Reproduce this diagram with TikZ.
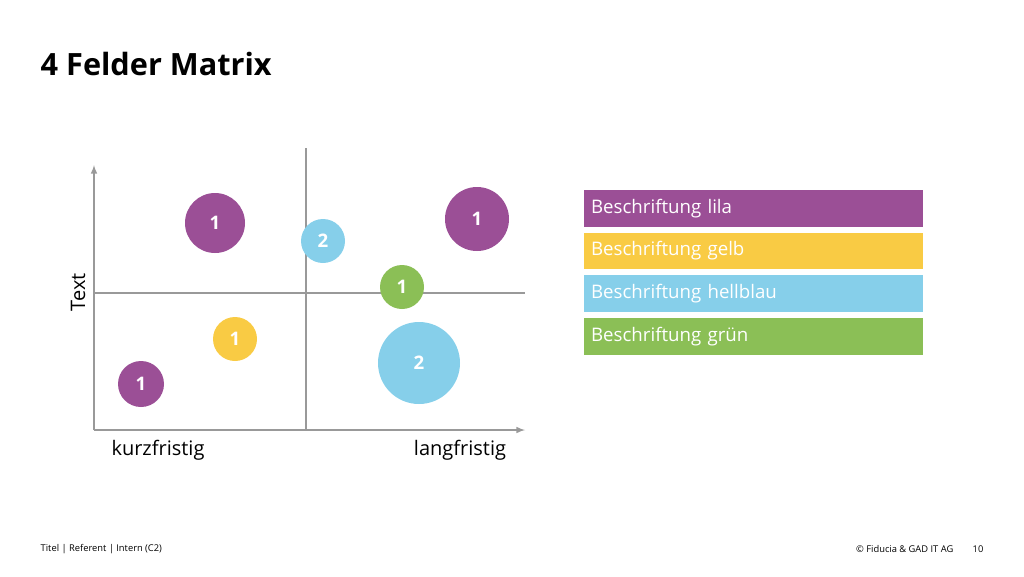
\documentclass[tikz,border=0pt]{standalone}
\usepackage{fontspec}
\setmainfont{Open Sans}
\begin{document}
\begin{tikzpicture}[x=0.75pt,y=-0.75pt,
  ax/.style={draw=gray!80,line width=1.2pt},
  bub/.style={circle,inner sep=0pt,text=white,font=\fontsize{14}{16}\selectfont\bfseries},
  leg/.style={minimum width=254.25pt,minimum height=27.5pt,anchor=west,text=white,inner xsep=5pt,text width=244pt,align=left,font=\fontsize{14}{16}\selectfont},
  lbl/.style={font=\fontsize{15}{18}\selectfont}]
\definecolor{lila}{HTML}{9B4F96}
\definecolor{gelb}{HTML}{F9CB44}
\definecolor{hb}{HTML}{86CFEA}
\definecolor{gr}{HTML}{8BBF56}
\useasboundingbox (0,0) rectangle (1024,576);
\node[anchor=west,font=\fontsize{23}{26}\selectfont\bfseries] (t) at (36,64) {4 Felder Matrix};
\coordinate (o) at (94,430);
\coordinate (yt) at (94,165);
\coordinate (xr) at (525,430);
\draw[ax,-latex] (o) -- (yt);
\draw[ax,-latex] (o) -- (xr);
\coordinate (v1) at (306,148); \coordinate (v2) at (306,430);
\coordinate (h1) at (94,293); \coordinate (h2) at (525,293);
\draw[ax] (v1) -- (v2);
\draw[ax] (h1) -- (h2);
\node[bub,fill=lila,minimum size=45pt] (c1) at (215,223) {1};
\node[bub,fill=hb,minimum size=33pt] (c2) at (323,241) {2};
\node[bub,fill=lila,minimum size=48pt] (c3) at (477,219) {1};
\node[bub,fill=gr,minimum size=33pt] (c4) at (402,287) {1};
\node[bub,fill=gelb,minimum size=33pt] (c5) at (235,339) {1};
\node[bub,fill=hb,minimum size=61.5pt] (c6) at (419,363) {2};
\node[bub,fill=lila,minimum size=34.5pt] (c7) at (141,384) {1};
\node[lbl,rotate=90] (ty) at (78,292) {Text};
\node[lbl] (k) at (158,450) {kurzfristig};
\node[lbl] (l) at (460,450) {langfristig};
\node[leg,fill=lila] (g1) at (584,208.5) {Beschriftung lila};
\node[leg,fill=gelb] (g2) at (584,251) {Beschriftung gelb};
\node[leg,fill=hb] (g3) at (584,293.5) {Beschriftung hellblau};
\node[leg,fill=gr] (g4) at (584,336.5) {Beschriftung grün};
\node[anchor=west,font=\fontsize{7}{8}\selectfont] (f1) at (36,549) {Titel | Referent | Intern (C2)};
\node[anchor=east,font=\fontsize{7}{8}\selectfont] (f2) at (958,549) {© Fiducia \& GAD IT AG};
\node[font=\fontsize{7}{8}\selectfont] (f3) at (978,549) {10};
\end{tikzpicture}
\end{document}
